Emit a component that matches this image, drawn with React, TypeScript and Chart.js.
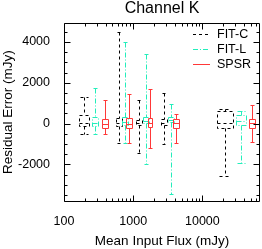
import { useEffect, useRef } from 'react';
import { Chart, registerables } from 'chart.js';

Chart.register(...registerables);

// ---------- data ----------
const seriesNames = ['FIT-C', 'FIT-L', 'SPSR'];

// FIT-C box statistics
const fitcX = [195, 626, 1233, 2750, 21000];
const fitcMin = [-505, -960, -1460, -1020, -2550];
const fitcQ1 = [-100, -100, -50, -50, -225];
const fitcMed = [30, 50, 50, 50, 50];
const fitcQ3 = [400, 250, 150, 245, 600];
const fitcMax = [1290, 4480, 1170, 1510, 705];

// FIT-L box statistics
const fitlX = [284, 760, 1542, 3508, 36100];
const fitlMin = [-505, -960, -1980, -3430, -1925];
const fitlQ1 = [-130, -80, 30, 70, -60];
const fitlMed = [50, 80, 100, 150, 100];
const fitlQ3 = [320, 330, 310, 315, 430];
const fitlMax = [1750, 3990, 3415, 960, 590];

// SPSR box statistics
const spsrX = [397, 863, 1763, 4198, 52400];
const spsrMin = [-505, -960, -1215, -940, -911];
const spsrQ1 = [-210, -200, -160, -210, -225];
const spsrMed = [0, 0, 50, 20, 20];
const spsrQ3 = [245, 270, 280, 245, 216];
const spsrMax = [1170, 1455, 1675, 490, 900];

const xTickValues = [100, 1000, 10000];
const yTickValues = [-2000, 0, 2000, 4000];

// ---------- styles ----------
const FONT = "'Liberation Sans', Arial, Helvetica, sans-serif";
const colors = ['#000000', '#22eebb', '#ff3838'];
const dashes = [[3, 3], [5, 2, 1, 2], []];
const boxWidths = [
  [10, 5, 5, 6, 16],
  [6, 5, 5, 5, 9],
  [5, 5, 4, 5, 6],
];

const series = [
  { name: seriesNames[0], x: fitcX, min: fitcMin, q1: fitcQ1, med: fitcMed, q3: fitcQ3, max: fitcMax },
  { name: seriesNames[1], x: fitlX, min: fitlMin, q1: fitlQ1, med: fitlMed, q3: fitlQ3, max: fitlMax },
  { name: seriesNames[2], x: spsrX, min: spsrMin, q1: spsrQ1, med: spsrMed, q3: spsrQ3, max: spsrMax },
];

function line(ctx: CanvasRenderingContext2D, x1: number, y1: number, x2: number, y2: number) {
  ctx.beginPath();
  ctx.moveTo(x1, y1);
  ctx.lineTo(x2, y2);
  ctx.stroke();
}

const boxPlugin = {
  id: 'boxes',
  afterDatasetsDraw(chart: any) {
    const { ctx, chartArea, scales } = chart;
    const xs = scales.x;
    const ys = scales.y;
    ctx.save();
    ctx.lineWidth = 1;
    series.forEach((s, si) => {
      ctx.strokeStyle = colors[si];
      ctx.setLineDash(dashes[si]);
      s.x.forEach((xv, i) => {
        const px = Math.round(xs.getPixelForValue(xv)) + 0.5;
        const hw = Math.round(boxWidths[si][i] / 2);
        const capHw = Math.max(2, Math.round(hw * 0.8));
        const yMin = Math.round(ys.getPixelForValue(s.min[i])) + 0.5;
        const yQ1 = Math.round(ys.getPixelForValue(s.q1[i])) + 0.5;
        const yMed = Math.round(ys.getPixelForValue(s.med[i])) + 0.5;
        const yQ3 = Math.round(ys.getPixelForValue(s.q3[i])) + 0.5;
        const yMax = Math.round(ys.getPixelForValue(s.max[i])) + 0.5;
        // whiskers
        if (yMax < yQ3) line(ctx, px, yMax, px, yQ3);
        if (yMin > yQ1) line(ctx, px, yQ1, px, yMin);
        // caps
        line(ctx, px - capHw, yMax, px + capHw, yMax);
        line(ctx, px - capHw, yMin, px + capHw, yMin);
        // box
        ctx.beginPath();
        ctx.moveTo(px - hw, yQ3);
        ctx.lineTo(px + hw, yQ3);
        ctx.lineTo(px + hw, yQ1);
        ctx.lineTo(px - hw, yQ1);
        ctx.closePath();
        ctx.stroke();
        // median
        line(ctx, px - hw, yMed, px + hw, yMed);
      });
    });
    ctx.restore();
  },
  afterDraw(chart: any) {
    const { ctx, chartArea, scales } = chart;
    const { left, right, top, bottom } = chartArea;
    const xs = scales.x;
    const ys = scales.y;
    ctx.save();
    ctx.strokeStyle = '#000';
    ctx.lineWidth = 1;
    ctx.setLineDash([]);
    const L = Math.round(left) + 0.5;
    const R = Math.round(right) - 0.5;
    const T = Math.round(top) + 0.5;
    const B = Math.round(bottom) - 0.5;
    ctx.beginPath();
    ctx.moveTo(L, T);
    ctx.lineTo(R, T);
    ctx.lineTo(R, B);
    ctx.lineTo(L, B);
    ctx.closePath();
    ctx.stroke();
    // y ticks (inward) on left and right
    for (let v = -3500; v <= 4500; v += 500) {
      const major = v % 2000 === 0;
      const len = major ? 6 : 3;
      const py = Math.round(ys.getPixelForValue(v)) + 0.5;
      if (py < T || py > B) continue;
      line(ctx, L, py, L + len, py);
      line(ctx, R, py, R - len, py);
    }
    // x ticks (inward) on bottom and top
    for (let d = 100; d <= 10000; d *= 10) {
      for (let m = 1; m <= 9; m++) {
        const v = d * m;
        const major = m === 1;
        const len = major ? 6 : 3;
        const px = Math.round(xs.getPixelForValue(v)) + 0.5;
        if (px < L || px > R) continue;
        line(ctx, px, B, px, B - len);
        line(ctx, px, T, px, T + len);
      }
    }
    // legend
    const legX = right - 67;
    const legY = top + 11;
    ctx.font = `12.5px ${FONT}`;
    ctx.textBaseline = 'middle';
    ctx.textAlign = 'left';
    series.forEach((s, si) => {
      const y = Math.round(legY + si * 15) + 0.5;
      ctx.strokeStyle = colors[si];
      ctx.setLineDash(dashes[si]);
      line(ctx, legX, y, legX + 17, y);
      ctx.fillStyle = '#000';
      ctx.fillText(s.name, legX + 24, y);
    });
    ctx.restore();
  },
};

export default function App() {
  const ref = useRef<HTMLCanvasElement>(null);
  useEffect(() => {
    document.body.style.margin = '0';
    const canvas = ref.current;
    if (!canvas) return;
    const chart = new Chart(canvas, {
      type: 'scatter',
      data: {
        datasets: series.map((s, si) => ({
          label: s.name,
          data: s.x.map((x, i) => ({ x, y: s.med[i] })),
          pointRadius: 0,
          pointHoverRadius: 0,
          borderColor: colors[si],
          backgroundColor: colors[si],
          showLine: false,
        })),
      },
      options: {
        responsive: false,
        animation: false,
        devicePixelRatio: 1,
        events: [],
        layout: { padding: { left: 0, right: 2, top: 0, bottom: 0 } },
        plugins: {
          legend: { display: false },
          tooltip: { enabled: false },
          title: {
            display: true,
            text: 'Channel K',
            fullSize: false,
            color: '#000',
            font: { family: FONT, size: 16, weight: 'normal', lineHeight: 1.1 },
            padding: { top: 0, bottom: 4.9 },
          },
        },
        scales: {
          x: {
            type: 'logarithmic',
            min: 100,
            max: 68000,
            grid: { display: false, drawTicks: false },
            border: { display: false },
            afterBuildTicks: (scale: any) => {
              scale.ticks = xTickValues.map((v) => ({ value: v }));
            },
            afterFit: (scale: any) => {
              scale.height = 47.3;
            },
            ticks: {
              color: '#000',
              font: { family: FONT, size: 12.5 },
              padding: 12,
              maxRotation: 0,
              autoSkip: false,
              callback: (v: any) => String(v),
            },
            title: {
              display: true,
              text: 'Mean Input Flux (mJy)',
              color: '#000',
              font: { family: FONT, size: 13.5 },
              padding: { top: 0, bottom: 0 },
            },
          },
          y: {
            type: 'linear',
            min: -3830,
            max: 4950,
            grid: { display: false, drawTicks: false },
            border: { display: false },
            afterBuildTicks: (scale: any) => {
              scale.ticks = yTickValues.map((v) => ({ value: v }));
            },
            afterFit: (scale: any) => {
              scale.width = 64;
            },
            ticks: {
              color: '#000',
              font: { family: FONT, size: 12.5 },
              padding: 14,
              autoSkip: false,
              callback: (v: any) => String(v),
            },
            title: {
              display: true,
              text: 'Residual Error (mJy)',
              color: '#000',
              font: { family: FONT, size: 13.5 },
              padding: { top: 0, bottom: 0 },
            },
          },
        },
      } as any,
      plugins: [boxPlugin],
    });
    return () => chart.destroy();
  }, []);
  return <canvas ref={ref} width={262} height={249} style={{ display: 'block', width: 262, height: 249 }} />;
}
